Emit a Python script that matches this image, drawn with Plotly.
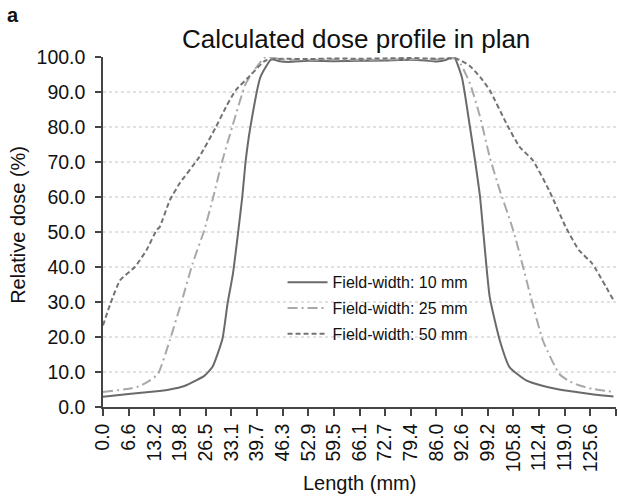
import plotly.graph_objects as go

# Dose profiles (relative dose, %) along the plan length (mm)
x_10mm = [0, 6.6, 13.2, 17.2, 21.0, 24.0, 26.1, 28.2, 30.8, 32.1, 33.5, 34.9, 35.9,
          36.8, 38.0, 40.6, 43.4, 45.5, 47.8, 52.9, 59.5, 66.1, 72.7, 79.4, 83.0,
          86.0, 88.5, 90.4, 92.5, 94.6, 95.9, 97.2, 98.0, 99.7, 102.3, 104.8, 109.1,
          113.5, 117.6, 122.0, 126.5, 131.6]
y_10mm = [2.9, 3.7, 4.4, 5.0, 6.0, 7.6, 8.9, 11.4, 19.5, 29.5, 38.1, 50.5, 60.0,
          70.5, 80.0, 94.3, 99.3, 98.8, 98.6, 98.9, 98.8, 98.9, 99.0, 99.2, 99.0,
          98.7, 99.2, 100.2, 94.3, 80.0, 70.5, 60.0, 50.5, 31.4, 19.0, 11.4, 7.6,
          6.0, 5.0, 4.3, 3.6, 3.0]

x_25mm = [0, 6.6, 9.5, 12.1, 14.2, 17.2, 20.6, 23.1, 26.1, 28.2, 30.8, 33.3, 36.8,
          39.5, 41.9, 46.3, 52.9, 59.5, 66.1, 72.7, 79.4, 86.0, 91.2, 94.6, 97.2,
          99.7, 102.3, 105.2, 106.5, 110.3, 113.4, 117.6, 120.0, 122.7, 126.0, 131.6]
y_25mm = [4.3, 5.2, 6.0, 7.6, 9.5, 19.0, 31.4, 41.0, 50.5, 59.0, 70.5, 80.0, 92.4,
          97.0, 100.0, 99.3, 99.2, 99.3, 99.2, 99.3, 99.4, 99.3, 99.5, 92.4, 82.9,
          71.4, 61.9, 52.4, 47.6, 31.4, 19.0, 9.5, 7.5, 6.2, 5.2, 4.3]

x_50mm = [0, 1.9, 4.4, 8.2, 11.2, 13.8, 14.6, 17.2, 19.7, 24.8, 29.1, 31.7, 34.2,
          37.6, 41.9, 46.3, 52.9, 59.5, 66.1, 72.7, 79.4, 86.0, 91.2, 94.5, 97.2,
          99.7, 104.0, 107.4, 110.8, 115.0, 119.3, 122.7, 126.1, 131.6]
y_50mm = [23.3, 29.5, 36.2, 40.0, 44.8, 50.5, 51.4, 59.0, 63.8, 71.4, 80.0, 85.7,
          90.5, 94.3, 99.0, 99.5, 99.4, 99.6, 99.5, 99.6, 99.7, 99.5, 99.5, 97.5,
          94.3, 90.5, 81.0, 74.3, 70.5, 61.9, 51.4, 44.8, 41.0, 30.5]

series_names = ["Field-width: 10 mm", "Field-width: 25 mm", "Field-width: 50 mm"]

# Category-style axis labels (one every 6.6125 mm); the last tick is unlabelled
x_tick_labels = ["0.0", "6.6", "13.2", "19.8", "26.5", "33.1", "39.7", "46.3",
                 "52.9", "59.5", "66.1", "72.7", "79.4", "86.0", "92.6", "99.2",
                 "105.8", "112.4", "119.0", "125.6", ""]
x_max = 132.25
y_ticks = [0, 10, 20, 30, 40, 50, 60, 70, 80, 90, 100]
grid_levels = [10, 20, 30, 40, 50, 60, 70, 80, 90]

step = x_max / (len(x_tick_labels) - 1)
x_tick_vals = [i * step for i in range(len(x_tick_labels))]

FONT = "Liberation Sans, Arial, sans-serif"
TXT = "#111111"

fig = go.Figure()
fig.add_trace(go.Scatter(x=x_10mm, y=y_10mm, name=series_names[0], mode="lines",
                         legendgroup="a",
                         line=dict(color="#6a6a6a", width=2, dash="solid",
                                   shape="spline", smoothing=0.5)))
fig.add_trace(go.Scatter(x=x_25mm, y=y_25mm, name=series_names[1], mode="lines",
                         legendgroup="b",
                         line=dict(color="#a8a8a8", width=2, dash="10px,4px,2px,4px",
                                   shape="spline", smoothing=0.5)))
fig.add_trace(go.Scatter(x=x_50mm, y=y_50mm, name=series_names[2], mode="lines",
                         legendgroup="c",
                         line=dict(color="#737373", width=2, dash="5px,3px",
                                   shape="spline", smoothing=0.5)))

# dotted horizontal gridlines
for g in grid_levels:
    fig.add_shape(type="line", xref="paper", yref="y", x0=0, x1=1, y0=g, y1=g,
                  line=dict(color="#c4c4c4", width=1, dash="dot"), layer="below")

fig.update_layout(
    width=618, height=500,
    margin=dict(l=103, r=2, t=57, b=93),
    paper_bgcolor="white", plot_bgcolor="white",
    font=dict(family=FONT, color=TXT),
    showlegend=True,
    legend=dict(x=0.35, y=0.405, xanchor="left", yanchor="top",
                bgcolor="rgba(0,0,0,0)", font=dict(size=16, color=TXT),
                traceorder="grouped", tracegroupgap=2, itemwidth=40),
    xaxis=dict(range=[0, x_max], tickvals=x_tick_vals, ticktext=x_tick_labels,
               tickangle=-90, ticks="outside", ticklen=7, tickwidth=1.5,
               tickcolor="#444", showline=True, linecolor="#444", linewidth=1.5,
               showgrid=False, zeroline=False,
               tickfont=dict(size=19.5, color=TXT, family=FONT)),
    yaxis=dict(range=[0, 100], tickvals=y_ticks, tickformat=".1f",
               ticks="outside", ticklen=6, tickwidth=1.5, tickcolor="#444",
               showline=True, linecolor="#444", linewidth=1.5,
               showgrid=False, zeroline=False, ticklabelstandoff=6,
               tickfont=dict(size=19.5, color=TXT, family=FONT)),
    annotations=[
        dict(text="Calculated dose profile in plan", xref="paper", yref="paper",
             x=0.493, y=1.05, xanchor="center", yanchor="middle", showarrow=False,
             font=dict(size=26, color=TXT, family=FONT)),
        dict(text="<b>a</b>", xref="paper", yref="paper", x=-0.176, y=1.12,
             xanchor="center", yanchor="middle", showarrow=False,
             font=dict(size=20, color=TXT, family=FONT)),
        dict(text="Length (mm)", xref="paper", yref="paper", x=0.5, y=-0.217,
             xanchor="center", yanchor="middle", showarrow=False,
             font=dict(size=20, color=TXT, family=FONT)),
        dict(text="Relative dose (%)", xref="paper", yref="paper", x=-0.166, y=0.52,
             xanchor="center", yanchor="middle", textangle=-90, showarrow=False,
             font=dict(size=20, color=TXT, family=FONT)),
    ],
)

fig.write_html("out.html")
